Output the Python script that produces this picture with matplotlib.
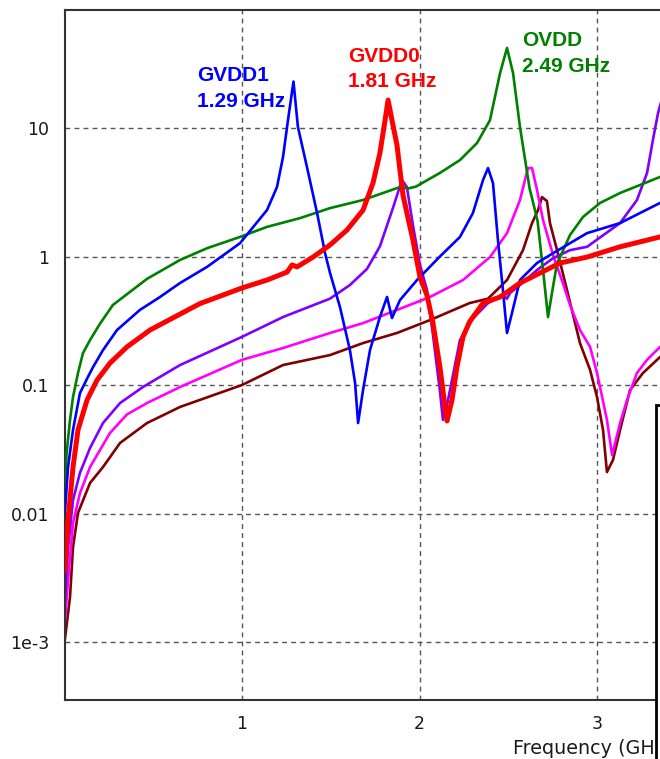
import matplotlib
matplotlib.use("Agg")
import matplotlib.pyplot as plt
from matplotlib.patches import Rectangle

# Impedance profiles (ohm) versus frequency (GHz) for each supply rail
freq_ovdd = [0.002, 0.012, 0.031, 0.048, 0.076, 0.104, 0.144, 0.20, 0.273, 0.465, 0.651,
             0.803, 0.989, 1.141, 1.327, 1.496, 1.681, 1.89, 1.935, 1.98, 2.115, 2.228,
             2.324, 2.397, 2.454, 2.493, 2.527, 2.566, 2.62, 2.665, 2.696, 2.724, 2.752,
             2.775, 2.792, 2.848, 2.921, 3.017, 3.13, 3.242, 3.355, 3.45]
z_ovdd = [0.0152, 0.0296, 0.0534, 0.0807, 0.124, 0.177, 0.224, 0.30, 0.42, 0.67, 0.94,
          1.16, 1.42, 1.70, 1.99, 2.38, 2.75, 3.47, 3.38, 3.5, 4.47, 5.63,
          7.64, 11.5, 26.8, 42.0, 26.8, 10.2, 3.4, 1.9, 0.785, 0.338, 0.58,
          0.89, 0.99, 1.47, 2.03, 2.61, 3.12, 3.60, 4.16, 4.6]

freq_gvdd1 = [0.002, 0.020, 0.048, 0.087, 0.127, 0.161, 0.217, 0.296, 0.425, 0.538, 0.651,
              0.803, 0.989, 1.141, 1.197, 1.231, 1.259, 1.29, 1.315, 1.366, 1.423, 1.468,
              1.496, 1.552, 1.608, 1.637, 1.654, 1.682, 1.721, 1.777, 1.817, 1.845, 1.890,
              1.986, 2.115, 2.228, 2.301, 2.358, 2.386, 2.414, 2.442, 2.470, 2.493, 2.521,
              2.566, 2.662, 2.752, 2.848, 2.944, 3.130, 3.355, 3.45]
z_gvdd1 = [0.0101, 0.023, 0.0447, 0.0864, 0.112, 0.138, 0.187, 0.268, 0.384, 0.484, 0.622,
           0.83, 1.27, 2.30, 3.47, 5.94, 11.5, 23.0, 10.2, 4.97, 2.18, 1.06,
           0.744, 0.404, 0.187, 0.104, 0.0506, 0.0914, 0.187, 0.338, 0.484, 0.332, 0.458,
           0.656, 1.0, 1.42, 2.18, 3.94, 4.88, 3.73, 1.34, 0.548, 0.254, 0.363,
           0.656, 0.89, 1.06, 1.27, 1.52, 1.82, 2.61, 2.9]

freq_gvdd0 = [0.002, 0.020, 0.048, 0.076, 0.127, 0.183, 0.256, 0.352, 0.482, 0.763,
              1.0, 1.141, 1.254, 1.282, 1.310, 1.400, 1.496, 1.592, 1.682, 1.738, 1.777,
              1.806, 1.823, 1.845, 1.873, 1.907, 1.963, 2.003, 2.042, 2.076, 2.115, 2.144,
              2.155, 2.183, 2.211, 2.245, 2.282, 2.358, 2.454, 2.566, 2.679, 2.792, 2.944,
              3.130, 3.355, 3.45]
z_gvdd0 = [0.00363, 0.0089, 0.023, 0.0447, 0.0764, 0.109, 0.148, 0.198, 0.268, 0.43,
           0.569, 0.656, 0.757, 0.86, 0.83, 0.99, 1.23, 1.61, 2.30, 3.73, 6.38,
           11.5, 16.5, 11.5, 7.38, 3.0, 1.34, 0.69, 0.50, 0.303, 0.138, 0.0675,
           0.0525, 0.0764, 0.138, 0.237, 0.31, 0.434, 0.484, 0.622, 0.744, 0.89, 0.99,
           1.19, 1.42, 1.52]

freq_purple = [0.002, 0.020, 0.048, 0.087, 0.144, 0.217, 0.313, 0.442, 0.651, 1.0, 1.231,
               1.496, 1.608, 1.704, 1.777, 1.851, 1.901, 1.929, 1.963, 2.003, 2.042, 2.076,
               2.115, 2.132, 2.155, 2.183, 2.228, 2.301, 2.386, 2.47, 2.493, 2.51, 2.566,
               2.662, 2.752, 2.848, 2.944, 3.130, 3.225, 3.282, 3.315, 3.344, 3.38]
z_purple = [0.00212, 0.00548, 0.0127, 0.0207, 0.0324, 0.0506, 0.0724, 0.0965, 0.143, 0.237, 0.338,
            0.47, 0.60, 0.80, 1.2, 2.4, 3.94, 3.47, 1.75, 0.86, 0.55, 0.245,
            0.09, 0.0535, 0.07, 0.109, 0.224, 0.33, 0.434, 0.50, 0.47, 0.52, 0.60,
            0.785, 0.97, 1.12, 1.19, 1.82, 2.75, 4.47, 8.07, 13.1, 19.8]

freq_magenta = [0.002, 0.020, 0.048, 0.087, 0.144, 0.256, 0.352, 0.465, 0.651, 1.0, 1.231,
                1.496, 1.682, 1.873, 2.059, 2.245, 2.397, 2.493, 2.566, 2.611, 2.634, 2.662,
                2.696, 2.752, 2.808, 2.848, 2.904, 2.961, 3.0, 3.017, 3.056, 3.085, 3.130,
                3.169, 3.225, 3.282, 3.355, 3.45]
z_magenta = [0.00141, 0.00303, 0.0084, 0.0144, 0.023, 0.0423, 0.059, 0.0724, 0.0965, 0.157, 0.194,
             0.254, 0.303, 0.384, 0.484, 0.656, 0.99, 1.52, 2.75, 4.88, 4.88, 3.29,
             1.92, 1.03, 0.62, 0.42, 0.268, 0.198, 0.124, 0.0965, 0.0535, 0.0285, 0.0506,
             0.0764, 0.124, 0.157, 0.198, 0.23]

freq_maroon = [0.002, 0.031, 0.048, 0.076, 0.144, 0.217, 0.313, 0.465, 0.651, 1.0, 1.231,
               1.496, 1.682, 1.873, 2.059, 2.282, 2.386, 2.493, 2.583, 2.634, 2.668, 2.690,
               2.718, 2.735, 2.775, 2.831, 2.904, 2.961, 3.0, 3.034, 3.056, 3.090, 3.130,
               3.186, 3.259, 3.355, 3.45]
z_maroon = [0.00104, 0.00224, 0.00548, 0.0101, 0.0173, 0.023, 0.0354, 0.0506, 0.0675, 0.10, 0.143,
            0.171, 0.212, 0.254, 0.32, 0.434, 0.47, 0.656, 1.12, 1.82, 2.30, 2.90,
            2.7, 1.82, 1.12, 0.548, 0.212, 0.131, 0.0807, 0.0447, 0.021, 0.0261, 0.0447,
            0.0914, 0.124, 0.165, 0.187]

x_ticks = [1, 2, 3]
x_tick_labels = ["1", "2", "3"]
y_ticks = [1e-3, 0.01, 0.1, 1, 10]
y_tick_labels = ["1e-3", "0.01", "0.1", "1", "10"]

# Resonance call-outs: (first line, second line, colour, x, y of each baseline)
callouts = [
    ("GVDD1", "1.29 GHz", "#0000ff", 0.746, 23.2, 14.6),
    ("GVDD0", "1.81 GHz", "#ff0000", 1.597, 32.7, 20.8),
    ("OVDD", "2.49 GHz", "#008000", 2.577, 43.5, 27.3),
]

W, H = 660, 759
fig = plt.figure(figsize=(W / 100, H / 100), dpi=100)
fig.patch.set_facecolor("white")

x_max = 3.6
px_per_ghz = 177.5
ax = fig.add_axes([64.5 / W, 59 / H, x_max * px_per_ghz / W, 690 / H])
ax.set_yscale("log")
ax.set_xlim(0, x_max)
ax.set_ylim(3.537e-4, 82.86)

thin = 1.9
ax.plot(freq_maroon, z_maroon, color="#800000", lw=thin, zorder=2)
ax.plot(freq_magenta, z_magenta, color="#ff00ff", lw=thin, zorder=2)
ax.plot(freq_purple, z_purple, color="#8000ff", lw=thin, zorder=2)
ax.plot(freq_ovdd, z_ovdd, color="#008000", lw=thin, zorder=3)
ax.plot(freq_gvdd1, z_gvdd1, color="#0000ff", lw=thin, zorder=3)
ax.plot(freq_gvdd0, z_gvdd0, color="#ff0000", lw=3.6, zorder=4)

ax.set_xticks(x_ticks)
ax.set_xticklabels(x_tick_labels)
ax.set_yticks(y_ticks)
ax.set_yticklabels(y_tick_labels)
ax.minorticks_off()
ax.tick_params(axis="both", length=0, labelsize=12.5, labelcolor="#1a1a1a")
ax.tick_params(axis="y", pad=11)
ax.tick_params(axis="x", pad=11)
for lbl in ax.get_xticklabels() + ax.get_yticklabels():
    lbl.set_fontfamily("DejaVu Sans")

ax.grid(True, which="major", color="#555555", lw=1.0, linestyle=(0, (3.5, 3.0)), zorder=1)
ax.set_axisbelow(True)

for side in ("left", "bottom", "top"):
    ax.spines[side].set_color("#333333")
    ax.spines[side].set_linewidth(1.5)
ax.spines["right"].set_visible(False)

for line1, line2, col, fx, y1, y2 in callouts:
    ax.text(fx, y1, line1, color=col, fontsize=15, fontweight="bold",
            family="Liberation Sans", va="baseline", ha="left", zorder=5)
    ax.text(fx, y2, line2, color=col, fontsize=15, fontweight="bold",
            family="Liberation Sans", va="baseline", ha="left", zorder=5)

fig.text(513 / W, (H - 754) / H, "Frequency (GHz)", fontsize=13.8,
         family="DejaVu Sans", color="#1a1a1a", ha="left", va="baseline", zorder=3)

# Legend frame at the lower right
fig.patches.append(Rectangle((656 / W, -0.2), 0.3, 0.2 + (H - 405) / H,
                             transform=fig.transFigure, facecolor="white",
                             edgecolor="black", lw=2.0, zorder=10))

fig.savefig("out.png", dpi=100, facecolor="white")
